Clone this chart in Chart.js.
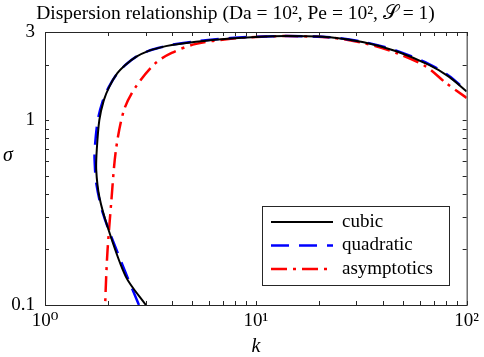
<!DOCTYPE html>
<html>
<head>
<meta charset="utf-8">
<script src="https://cdn.jsdelivr.net/npm/chart.js@4.4.1/dist/chart.umd.min.js"></script>
<style>
  body { margin: 0; background: #fff; }
  canvas { display: block; }
</style>
</head>
<body>
<canvas id="dispersion" width="484" height="357"></canvas>
<script>
// wavenumber k and growth rate sigma
const kCubic = [3.01, 2.42, 1.98, 1.81, 1.75, 1.76, 1.81, 1.9, 2.02, 2.2, 2.42, 2.7, 3.1, 3.5, 4.0, 5.2, 7.6, 10, 14, 22.5, 32.5, 46.4, 66.3, 82.3, 100];
const sigmaCubic = [0.1, 0.142, 0.265, 0.385, 0.537, 0.69, 1.0, 1.28, 1.52, 1.79, 2.0, 2.2, 2.37, 2.47, 2.55, 2.66, 2.77, 2.82, 2.85, 2.81, 2.64, 2.36, 1.99, 1.72, 1.43];

const kQuadratic = [2.79, 2.25, 1.88, 1.75, 1.72, 1.72, 1.78, 1.88, 2.0, 2.2, 2.42, 2.7, 3.1, 3.5, 4.0, 5.2, 7.6, 10, 14, 22.5, 32.5, 46.4, 66.3, 82.3, 100];
const sigmaQuadratic = [0.1, 0.182, 0.315, 0.457, 0.6, 0.69, 1.0, 1.27, 1.5, 1.79, 2.0, 2.2, 2.37, 2.47, 2.56, 2.67, 2.78, 2.83, 2.85, 2.81, 2.65, 2.38, 2.01, 1.74, 1.44];

const kAsymptotic = [1.93, 1.93, 1.95, 1.98, 2.06, 2.17, 2.37, 2.70, 3.35, 3.99, 5.15, 7.6, 10, 14, 22.5, 32.5, 46.4, 64.2, 79.7, 100];
const sigmaAsymptotic = [0.08, 0.1, 0.14, 0.198, 0.356, 0.69, 1.135, 1.52, 2.04, 2.31, 2.58, 2.76, 2.82, 2.85, 2.80, 2.61, 2.31, 1.95, 1.59, 1.32];

const xTickValues = [1, 10, 100];
const xTickLabels = ['10⁰', '10¹', '10²'];
const yTickValues = [0.1, 1, 3];
const yTickLabels = ['0.1', '1', '3'];
const xMinorTicks = [2, 3, 4, 5, 6, 7, 8, 9, 20, 30, 40, 50, 60, 70, 80, 90];
const yMinorTicks = [0.2, 0.3, 0.4, 0.5, 0.6, 0.7, 0.8, 0.9, 2];

const serif = '"Liberation Serif", "DejaVu Serif", serif';
const axisColor = '#262626';

function toPoints(xs, ys) {
  return xs.map((x, i) => ({ x: x, y: ys[i] }));
}

// box, inward ticks, axis names and the legend, MATLAB style
const figureDecor = {
  id: 'figureDecor',
  afterDraw(chart) {
    const { ctx, chartArea: a, scales: { x, y } } = chart;
    ctx.save();
    ctx.strokeStyle = axisColor;
    ctx.lineWidth = 1;
    ctx.strokeRect(a.left + 0.5, a.top + 0.5, a.right - a.left, a.bottom - a.top);

    const tickLen = 4;
    ctx.beginPath();
    xTickValues.concat(xMinorTicks).forEach(v => {
      const px = Math.round(x.getPixelForValue(v)) + 0.5;
      ctx.moveTo(px, a.bottom); ctx.lineTo(px, a.bottom - tickLen);
      ctx.moveTo(px, a.top); ctx.lineTo(px, a.top + tickLen);
    });
    yTickValues.concat(yMinorTicks).forEach(v => {
      const py = Math.round(y.getPixelForValue(v)) + 0.5;
      ctx.moveTo(a.left, py); ctx.lineTo(a.left + tickLen, py);
      ctx.moveTo(a.right, py); ctx.lineTo(a.right - tickLen, py);
    });
    ctx.stroke();

    // axis names
    ctx.fillStyle = '#000';
    ctx.font = 'italic 20px ' + serif;
    ctx.textAlign = 'center';
    ctx.textBaseline = 'middle';
    ctx.fillText('k', (a.left + a.right) / 2, 347);
    ctx.fillText('σ', 8, 156);

    // legend
    const lx = 262, ly = 206, lw = 187, lh = 79;
    ctx.fillStyle = '#fff';
    ctx.fillRect(lx, ly, lw, lh);
    ctx.strokeStyle = axisColor;
    ctx.strokeRect(lx + 0.5, ly + 0.5, lw, lh);
    ctx.font = '19px ' + serif;
    ctx.textAlign = 'left';
    chart.data.datasets.forEach((ds, i) => {
      const rowY = ly + 16 + i * 23.5;
      ctx.strokeStyle = ds.borderColor;
      ctx.lineWidth = ds.borderWidth;
      ctx.setLineDash(ds.borderDash || []);
      ctx.beginPath();
      ctx.moveTo(lx + 9, rowY);
      ctx.lineTo(lx + 71, rowY);
      ctx.stroke();
      ctx.setLineDash([]);
      ctx.fillStyle = '#000';
      ctx.fillText(ds.label, lx + 80, rowY);
    });
    ctx.restore();
  }
};

const chart = new Chart(document.getElementById('dispersion'), {
  type: 'scatter',
  data: {
    datasets: [
      {
        label: 'cubic',
        data: toPoints(kCubic, sigmaCubic),
        borderColor: '#000000',
        borderWidth: 2,
        showLine: true,
        pointRadius: 0,
        tension: 0.3
      },
      {
        label: 'quadratic',
        data: toPoints(kQuadratic, sigmaQuadratic),
        borderColor: '#0000ff',
        borderWidth: 2.5,
        borderDash: [18, 10],
        showLine: true,
        pointRadius: 0,
        tension: 0.3
      },
      {
        label: 'asymptotics',
        data: toPoints(kAsymptotic, sigmaAsymptotic),
        borderColor: '#ff0000',
        borderWidth: 2.5,
        borderDash: [16, 6, 3, 6],
        showLine: true,
        pointRadius: 0,
        tension: 0.3
      }
    ]
  },
  options: {
    responsive: false,
    animation: false,
    layout: { padding: { left: 0, right: 13, top: 0, bottom: 0 } },
    plugins: {
      legend: { display: false },
      tooltip: { enabled: false },
      title: {
        display: true,
        text: 'Dispersion relationship (Da = 10², Pe = 10², 𝒮 = 1)',
        color: '#000',
        font: { family: serif, size: 19.5, weight: 'normal' },
        padding: { top: 2, bottom: 6.6 }
      }
    },
    scales: {
      x: {
        type: 'logarithmic',
        min: 1,
        max: 100,
        afterBuildTicks: s => { s.ticks = xTickValues.map(v => ({ value: v })); },
        afterFit: s => { s.height = 52; },
        grid: { display: false, drawTicks: false },
        border: { display: false },
        ticks: {
          autoSkip: false,
          maxRotation: 0,
          padding: 5,
          color: '#000',
          font: { family: serif, size: 19 },
          callback: v => xTickLabels[xTickValues.indexOf(v)]
        }
      },
      y: {
        type: 'logarithmic',
        min: 0.1,
        max: 3,
        afterBuildTicks: s => { s.ticks = yTickValues.map(v => ({ value: v })); },
        afterFit: s => { s.width = 45; },
        grid: { display: false, drawTicks: false },
        border: { display: false },
        ticks: {
          autoSkip: false,
          padding: 10,
          color: '#000',
          font: { family: serif, size: 19 },
          callback: v => yTickLabels[yTickValues.indexOf(v)]
        }
      }
    }
  },
  plugins: [figureDecor]
});
</script>
</body>
</html>
